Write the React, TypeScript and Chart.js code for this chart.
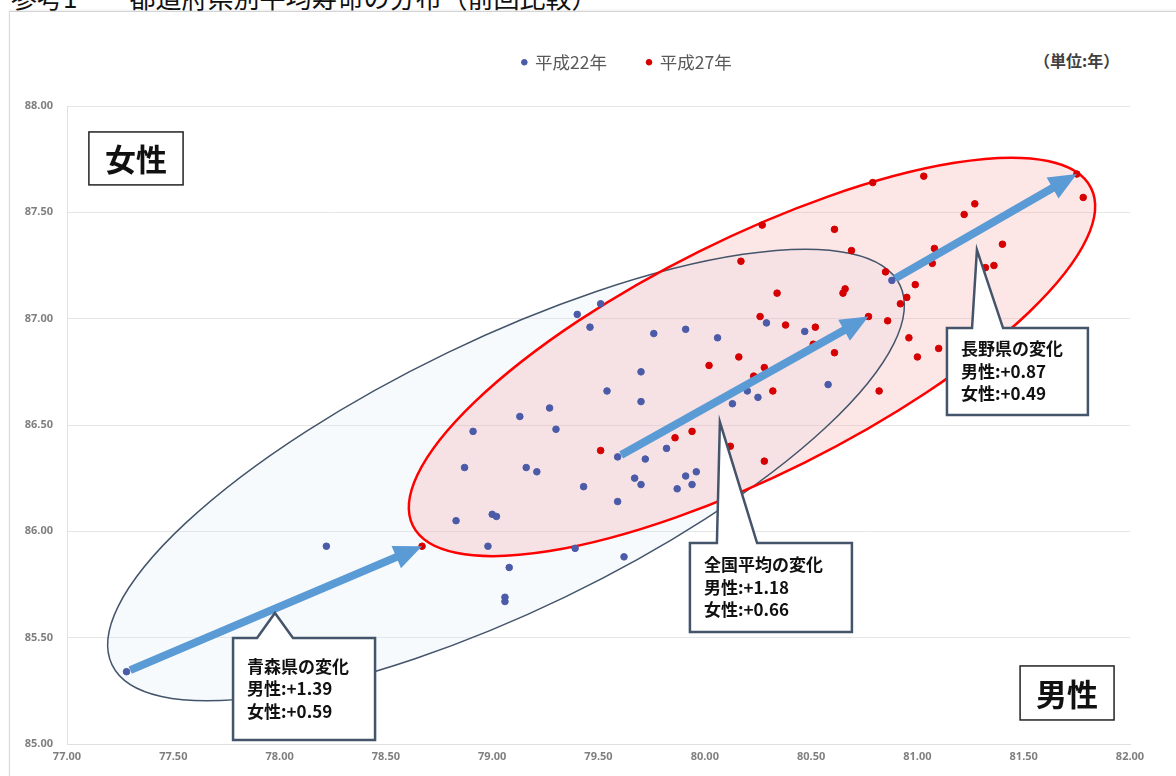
import React, { useEffect, useRef } from 'react';
import { Chart, registerables } from 'chart.js';

Chart.register(...registerables);

// ---- data ----
const seriesLabels = ['平成22年', '平成27年'];

// 平成22年: male (x) / female (y) life expectancy by prefecture
const h22Male = [
  77.28, 78.22, 78.91, 78.87, 78.83, 78.98, 79.0, 79.02, 79.08, 79.06,
  79.06, 79.13, 79.16, 79.21, 79.27, 79.3, 79.43, 79.4, 79.39, 79.51,
  79.46, 79.54, 79.59, 79.62, 79.59, 79.67, 79.7, 79.7, 79.7, 79.72,
  79.76, 79.82, 79.87, 79.91, 79.91, 79.96, 79.94, 80.06, 80.13, 80.2,
  80.25, 80.29, 80.47, 80.58, 80.88,
];
const h22Female = [
  85.34, 85.93, 86.47, 86.3, 86.05, 85.93, 86.08, 86.07, 85.83, 85.69,
  85.67, 86.54, 86.3, 86.28, 86.58, 86.48, 86.21, 87.02, 85.92, 87.07,
  86.96, 86.66, 86.14, 85.88, 86.35, 86.25, 86.22, 86.61, 86.75, 86.34,
  86.93, 86.39, 86.2, 86.95, 86.26, 86.28, 86.22, 86.91, 86.6, 86.66,
  86.63, 86.98, 86.94, 86.69, 87.18,
];

// 平成27年
const h27Male = [
  78.67, 79.51, 79.86, 79.94, 80.12, 80.28, 80.27, 80.61, 80.69, 80.17,
  80.85, 80.34, 80.66, 80.65, 80.92, 80.26, 80.38, 80.52, 80.77, 80.86,
  80.51, 80.16, 80.61, 80.02, 80.28, 80.23, 80.32, 80.82, 80.79, 81.03,
  81.27, 81.22, 81.75, 81.78, 81.4, 81.08, 81.07, 80.99, 80.95, 81.32,
  81.36, 80.96, 81.0, 81.1,
];
const h27Female = [
  85.93, 86.38, 86.44, 86.47, 86.4, 86.33, 87.44, 87.42, 87.32, 87.27,
  87.22, 87.12, 87.14, 87.12, 87.07, 87.01, 86.97, 86.96, 87.01, 86.99,
  86.88, 86.82, 86.84, 86.78, 86.77, 86.73, 86.66, 86.66, 87.64, 87.67,
  87.54, 87.49, 87.68, 87.57, 87.35, 87.33, 87.26, 87.16, 87.1, 87.24,
  87.25, 86.91, 86.82, 86.86,
];

const xTicks = [77, 77.5, 78, 78.5, 79, 79.5, 80, 80.5, 81, 81.5, 82];
const yTicks = [85, 85.5, 86, 86.5, 87, 87.5, 88];

// arrows: [index in 平成22年, index in 平成27年]  (青森県, 全国平均, 長野県)
const arrowPairs = [
  [0, 0],
  [24, 18],
  [44, 32],
];

// callouts, anchored in data coordinates
const callouts = [
  { lines: ['青森県の変化', '男性:+1.39', '女性:+0.59'], box: [77.781, 85.499, 78.449, 85.019], tip: [77.978, 85.616], base: [77.894, 78.063] },
  { lines: ['全国平均の変化', '男性:+1.18', '女性:+0.66'], box: [79.93, 85.945, 80.692, 85.527], tip: [80.071, 86.514], base: [80.057, 80.246] },
  { lines: ['長野県の変化', '男性:+0.87', '女性:+0.49'], box: [81.139, 86.956, 81.802, 86.547], tip: [81.28, 87.323], base: [81.257, 81.403] },
];

const sexLabels = [
  { text: '女性', box: [77.103, 87.878, 77.546, 87.629] },
  { text: '男性', box: [81.483, 85.367, 81.925, 85.113] },
];

const ellipses = [
  { center: [79.065, 86.265], end: [80.918, 87.158], ratio: 0.31, fill: 'rgba(214,232,248,0.22)', stroke: '#44546a', width: 1.5 },
  { center: [80.222, 86.82], end: [81.817, 87.614], ratio: 0.3115, fill: 'rgba(245,150,150,0.24)', stroke: '#ff0000', width: 2.5 },
];

const BLUE = '#4b5ba8';
const RED = '#d60000';
const ARROW = '#5b9bd5';
const CJK = '"Noto Sans CJK JP", "Noto Sans", sans-serif';

const LEGEND_HEIGHT = 92.5;
const LEGEND_SHIFT = 62;

const legendLayoutPlugin = {
  id: 'legendLayout',
  beforeInit(chart: any) {
    const legend = chart.legend;
    if (!legend) return;
    const origFit = legend.fit;
    legend.fit = function () {
      origFit.call(this);
      this.height = LEGEND_HEIGHT;
    };
  },
  afterLayout(chart: any) {
    if (chart.legend) {
      chart.legend.left += LEGEND_SHIFT;
      chart.legend.right += LEGEND_SHIFT;
    }
  },
};

const annotationPlugin = {
  id: 'annotations',
  beforeDatasetsDraw(chart: any) {
    const { ctx, scales } = chart;
    const xs = scales.x;
    const ys = scales.y;
    const geo = ellipses.map((e) => {
      const cx = xs.getPixelForValue(e.center[0]);
      const cy = ys.getPixelForValue(e.center[1]);
      const ex = xs.getPixelForValue(e.end[0]);
      const ey = ys.getPixelForValue(e.end[1]);
      const a = Math.hypot(ex - cx, ey - cy);
      return { cx, cy, a, b: a * e.ratio, rot: Math.atan2(ey - cy, ex - cx), e };
    });
    ctx.save();
    geo.forEach((g) => {
      ctx.beginPath();
      ctx.ellipse(g.cx, g.cy, g.a, g.b, g.rot, 0, Math.PI * 2);
      ctx.fillStyle = g.e.fill;
      ctx.fill();
    });
    geo.forEach((g) => {
      ctx.beginPath();
      ctx.ellipse(g.cx, g.cy, g.a, g.b, g.rot, 0, Math.PI * 2);
      ctx.strokeStyle = g.e.stroke;
      ctx.lineWidth = g.e.width;
      ctx.stroke();
    });
    ctx.restore();
  },
  afterDatasetsDraw(chart: any) {
    const { ctx, scales } = chart;
    const xs = scales.x;
    const ys = scales.y;
    const px = (v: number) => xs.getPixelForValue(v);
    const py = (v: number) => ys.getPixelForValue(v);
    ctx.save();

    // arrows
    arrowPairs.forEach(([i0, i1]) => {
      const x0 = px(h22Male[i0]);
      const y0 = py(h22Female[i0]);
      const x1 = px(h27Male[i1]);
      const y1 = py(h27Female[i1]);
      const len = Math.hypot(x1 - x0, y1 - y0);
      const dx = (x1 - x0) / len;
      const dy = (y1 - y0) / len;
      const nx = -dy;
      const ny = dx;
      const sx = x0 + dx * 4;
      const sy = y0 + dy * 4;
      const headLen = 28;
      const headHalf = 12;
      const shaftHalf = 4;
      const bx = x1 - dx * headLen;
      const by = y1 - dy * headLen;
      ctx.beginPath();
      ctx.moveTo(sx + nx * shaftHalf, sy + ny * shaftHalf);
      ctx.lineTo(bx + nx * shaftHalf, by + ny * shaftHalf);
      ctx.lineTo(bx + nx * headHalf, by + ny * headHalf);
      ctx.lineTo(x1, y1);
      ctx.lineTo(bx - nx * headHalf, by - ny * headHalf);
      ctx.lineTo(bx - nx * shaftHalf, by - ny * shaftHalf);
      ctx.lineTo(sx - nx * shaftHalf, sy - ny * shaftHalf);
      ctx.closePath();
      ctx.fillStyle = ARROW;
      ctx.fill();
    });

    // callouts
    callouts.forEach((c) => {
      const L = px(c.box[0]);
      const T = py(c.box[1]);
      const R = px(c.box[2]);
      const B = py(c.box[3]);
      const tx = px(c.tip[0]);
      const ty = py(c.tip[1]);
      const bl = px(c.base[0]);
      const br = px(c.base[1]);
      ctx.beginPath();
      ctx.moveTo(L, T);
      ctx.lineTo(bl, T);
      ctx.lineTo(tx, ty);
      ctx.lineTo(br, T);
      ctx.lineTo(R, T);
      ctx.lineTo(R, B);
      ctx.lineTo(L, B);
      ctx.closePath();
      ctx.fillStyle = '#ffffff';
      ctx.fill();
      ctx.lineWidth = 2.5;
      ctx.lineJoin = 'miter';
      ctx.strokeStyle = '#44546a';
      ctx.stroke();
      ctx.fillStyle = '#111111';
      ctx.font = `bold 17px ${CJK}`;
      ctx.textAlign = 'left';
      ctx.textBaseline = 'middle';
      const mid = (T + B) / 2;
      c.lines.forEach((t, i) => {
        ctx.fillText(t, L + 14, mid + (i - 1) * 22.5);
      });
    });

    // 女性 / 男性 labels
    sexLabels.forEach((s) => {
      const L = px(s.box[0]);
      const T = py(s.box[1]);
      const R = px(s.box[2]);
      const B = py(s.box[3]);
      ctx.fillStyle = '#ffffff';
      ctx.fillRect(L, T, R - L, B - T);
      ctx.lineWidth = 1.5;
      ctx.strokeStyle = '#222222';
      ctx.strokeRect(L, T, R - L, B - T);
      ctx.fillStyle = '#111111';
      ctx.font = `bold 31px ${CJK}`;
      ctx.textAlign = 'center';
      ctx.textBaseline = 'middle';
      ctx.fillText(s.text, (L + R) / 2, (T + B) / 2 + 1);
    });

    ctx.restore();
  },
};

export default function App() {
  const canvasRef = useRef<HTMLCanvasElement | null>(null);

  useEffect(() => {
    if (!canvasRef.current) return;
    const tickFont = { family: '"Noto Sans", sans-serif', size: 11, weight: 'bold' as const };
    const chart = new Chart(canvasRef.current, {
      type: 'scatter',
      data: {
        datasets: [
          {
            label: seriesLabels[0],
            data: h22Male.map((m, i) => ({ x: m, y: h22Female[i] })),
            backgroundColor: BLUE,
            borderColor: BLUE,
            pointRadius: 3.3,
            borderWidth: 1,
          },
          {
            label: seriesLabels[1],
            data: h27Male.map((m, i) => ({ x: m, y: h27Female[i] })),
            backgroundColor: RED,
            borderColor: RED,
            pointRadius: 3.3,
            borderWidth: 1,
          },
        ],
      },
      options: {
        animation: false,
        responsive: true,
        maintainAspectRatio: false,
        events: [],
        layout: { padding: { top: 13.5, right: 46, bottom: 0, left: 0 } },
        plugins: {
          tooltip: { enabled: false },
          legend: {
            display: true,
            position: 'top',
            labels: {
              usePointStyle: true,
              pointStyle: 'circle',
              boxWidth: 4,
              boxHeight: 4,
              padding: 40,
              color: '#595959',
              font: { family: CJK, size: 17.5 },
            },
          },
        },
        scales: {
          x: {
            type: 'linear',
            min: 77,
            max: 82,
            afterBuildTicks: (scale: any) => {
              scale.ticks = xTicks.map((v) => ({ value: v }));
            },
            afterFit: (scale: any) => {
              scale.height = 32;
            },
            ticks: {
              color: '#7f7f7f',
              font: tickFont,
              padding: 6,
              maxRotation: 0,
              autoSkip: false,
              callback: (v: any) => Number(v).toFixed(2),
            },
            grid: { display: false, drawTicks: false },
            border: { display: true, color: '#e0e0e0' },
          },
          y: {
            type: 'linear',
            min: 85,
            max: 88,
            afterBuildTicks: (scale: any) => {
              scale.ticks = yTicks.map((v) => ({ value: v }));
            },
            afterFit: (scale: any) => {
              scale.width = 67;
            },
            ticks: {
              color: '#7f7f7f',
              font: tickFont,
              padding: 14,
              autoSkip: false,
              callback: (v: any) => Number(v).toFixed(2),
            },
            grid: { color: '#e6e6e6', lineWidth: 1, drawTicks: false },
            border: { display: true, color: '#e0e0e0' },
          },
        },
      },
      plugins: [legendLayoutPlugin, annotationPlugin],
    } as any);
    return () => chart.destroy();
  }, []);

  return (
    <div style={{ position: 'absolute', left: 0, top: 0, width: 1176, height: 776, overflow: 'hidden', background: '#ffffff' }}>
      <div
        style={{
          position: 'absolute',
          left: 9,
          top: 11,
          width: 1200,
          height: 800,
          borderTop: '1px solid #d4d4d4',
          borderLeft: '1px solid #d9d9d9',
          boxShadow: '0 -1px 2px rgba(0,0,0,0.08)',
        }}
      />
      <div
        style={{
          position: 'absolute',
          left: 11,
          top: -16,
          fontFamily: CJK,
          fontSize: 26,
          lineHeight: '26px',
          color: '#111111',
          whiteSpace: 'nowrap',
        }}
      >
        参考1　　都道府県別平均寿命の分布（前回比較）
      </div>
      <div
        style={{
          position: 'absolute',
          left: 1034,
          top: 51,
          fontFamily: CJK,
          fontSize: 16,
          fontWeight: 'bold',
          lineHeight: '18px',
          color: '#404040',
          whiteSpace: 'nowrap',
        }}
      >
        （単位:年）
      </div>
      <div style={{ position: 'absolute', left: 0, top: 0, width: 1176, height: 776 }}>
        <canvas ref={canvasRef} />
      </div>
    </div>
  );
}
